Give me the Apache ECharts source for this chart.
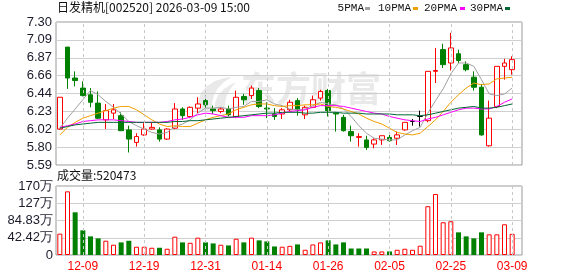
<!DOCTYPE html>
<html><head><meta charset="utf-8">
<script src="https://cdn.jsdelivr.net/npm/echarts@6/dist/echarts.min.js"></script>
<style>html,body{margin:0;padding:0;background:#fff}#c{width:578px;height:276px}</style>
</head><body><div id="c"></div>
<script>
const dates = ['12-04','12-05','12-08','12-09','12-10','12-11','12-12','12-15','12-16','12-17','12-18','12-19','12-22','12-23','12-24','12-25','12-26','12-29','12-30','12-31','01-05','01-06','01-07','01-08','01-09','01-12','01-13','01-14','01-15','01-16','01-19','01-20','01-21','01-22','01-23','01-26','01-27','01-28','01-29','01-30','02-02','02-03','02-04','02-05','02-06','02-09','02-10','02-11','02-12','02-13','02-24','02-25','02-26','02-27','03-02','03-03','03-04','03-05','03-06','03-09'];
const opens  = [6.02,7.00,6.63,6.51,6.43,6.33,6.13,6.21,6.18,6.01, 5.86,5.95,6.02,6.01,5.90,6.03,6.26,6.17,6.27,6.36, 6.26,6.23,6.26,6.17,6.41,6.42,6.48,6.27,6.20,6.20, 6.25,6.36,6.19,6.28,6.39,6.48,6.21,6.16,5.99,5.92, 5.89,5.84,5.89,5.92,5.91,6.01,6.11,6.17,6.12,6.71, 6.97,6.81,6.92,6.79,6.64,6.52,5.82,6.29,6.77,6.73];
const closes = [6.40,6.63,6.60,6.42,6.34,6.15,6.24,6.25,6.00,5.90, 5.93,6.02,6.04,5.90,6.02,6.26,6.18,6.28,6.32,6.31, 6.24,6.26,6.19,6.40,6.37,6.51,6.29,6.26,6.17,6.25, 6.34,6.25,6.28,6.37,6.47,6.24,6.20,6.00,5.94,5.93, 5.80,5.89,5.94,5.88,5.95,6.10,6.11,6.17,6.71,6.72, 6.79,6.99,6.84,6.73,6.52,5.95,6.15,6.77,6.81,6.85];
const lows   = [6.01,6.50,6.53,6.41,6.28,6.14,6.02,6.14,6.00,5.74, 5.81,5.94,6.01,5.87,5.89,6.02,6.13,6.15,6.21,6.27, 6.20,6.21,6.17,6.15,6.31,6.38,6.27,6.15,6.13,6.14, 6.23,6.18,6.14,6.27,6.36,6.17,5.99,5.99,5.87,5.81, 5.77,5.79,5.83,5.87,5.83,6.00,6.06,6.05,6.10,6.57, 6.75,6.72,6.81,6.71,6.48,5.94,5.81,6.27,6.61,6.67];
const highs  = [6.40,7.00,6.71,6.59,6.51,6.47,6.32,6.32,6.22,6.06, 5.97,6.09,6.10,6.04,6.03,6.33,6.28,6.29,6.40,6.42, 6.30,6.28,6.30,6.48,6.44,6.54,6.51,6.34,6.27,6.27, 6.37,6.39,6.30,6.42,6.49,6.50,6.22,6.19,6.06,5.97, 5.94,5.91,5.94,5.95,5.99,6.10,6.14,6.24,6.71,6.99, 7.04,7.17,6.97,6.83,6.71,6.56,6.36,6.77,6.86,6.89];
const ma5  = [6.03,6.15,6.26,6.37,6.48,6.43,6.35,6.28,6.20,6.11, 6.06,6.02,5.98,5.96,5.98,6.05,6.08,6.13,6.21,6.27, 6.27,6.28,6.26,6.28,6.29,6.35,6.35,6.37,6.32,6.30, 6.26,6.25,6.26,6.30,6.34,6.32,6.31,6.26,6.17,6.06, 5.97,5.91,5.90,5.89,5.89,5.95,6.00,6.04,6.21,6.36, 6.50,6.68,6.81,6.81,6.77,6.61,6.44,6.42,6.44,6.51];
const ma10 = [5.95,6.04,6.10,6.15,6.18,6.21,6.24,6.27,6.29,6.29, 6.25,6.19,6.13,6.08,6.05,6.06,6.05,6.05,6.09,6.13, 6.16,6.18,6.20,6.25,6.28,6.31,6.32,6.32,6.30,6.29, 6.30,6.30,6.31,6.31,6.32,6.29,6.28,6.26,6.23,6.20, 6.15,6.11,6.08,6.03,5.98,5.96,5.95,5.97,6.05,6.13, 6.23,6.34,6.43,6.51,6.57,6.55,6.56,6.62,6.63,6.64];
const ma20 = [6.04,6.06,6.08,6.11,6.12,6.13,6.13,6.13,6.12,6.11, 6.10,6.10,6.10,6.10,6.11,6.13,6.14,6.16,6.19,6.21, 6.20,6.18,6.16,6.16,6.16,6.18,6.18,6.18,6.19,6.21, 6.23,6.24,6.25,6.28,6.30,6.30,6.30,6.29,6.27,6.25, 6.23,6.21,6.20,6.17,6.15,6.13,6.12,6.11,6.14,6.16, 6.19,6.22,6.25,6.27,6.27,6.26,6.26,6.29,6.34,6.38];
const ma30 = [6.03,6.05,6.07,6.08,6.09,6.10,6.10,6.10,6.10,6.10, 6.10,6.10,6.10,6.10,6.10,6.11,6.11,6.12,6.12,6.13, 6.14,6.15,6.16,6.17,6.18,6.19,6.20,6.21,6.21,6.22, 6.22,6.22,6.21,6.21,6.22,6.22,6.22,6.21,6.21,6.21, 6.20,6.20,6.20,6.20,6.19,6.19,6.19,6.18,6.19,6.21, 6.23,6.25,6.27,6.28,6.29,6.27,6.27,6.28,6.30,6.32];
const volumes = [52.5,156.5,105,60.7,45.8,40.9,35.1,25.2,31,35, 20.3,20.3,17.8,17.8,15.4,45,31,30,42.6,31, 28.5,25.2,23.5,40,31,42.6,36,33.4,21,20.3, 22.5,26,12.9,26,31,36,26,31,16,16, 16,8.7,8.7,8.7,12.9,15.4,12.9,22.8,120,150, 80.5,83,55.7,45.8,40.9,55.7,50.8,50.8,75.5,52.05];
const priceTickLabels = ['5.59','5.80','6.02','6.23','6.44','6.66','6.87','7.09','7.30'];
const volTickLabels = ['0','42.42万','84.83万','127万','170万'];
const labelDates = ['12-09','12-19','12-31','01-14','01-26','02-05','02-25','03-09'];

const RED = '#ff0000', GREEN = '#008000';
const pMin = 5.59, pMax = 7.30, pInt = (pMax - pMin) / 8;
const vMax = 169.6668, vInt = vMax / 4;
const L = 56, W = 466, DW = 460;

const kData = dates.map((d, i) => [opens[i], closes[i], lows[i], highs[i]]);
const volData = volumes.map((v, i) => {
  const up = i === 0 ? closes[i] >= opens[i] : closes[i] >= closes[i - 1];
  return { value: v, itemStyle: up ? { color: '#fff', borderColor: RED, borderWidth: 1 } : { color: GREEN, borderColor: GREEN, borderWidth: 0 } };
});
const vlines = labelDates.map(d => ({ xAxis: d }));
const vlineStyle = { color: '#c8c8c8', type: [3, 3], width: 1 };
const labFont = { fontFamily: 'Liberation Sans', fontSize: 13, color: '#1a1a2a' };
const WM = '#e9e9e9';

const chart = echarts.init(document.getElementById('c'), null, { renderer: 'canvas' });
chart.setOption({
  animation: false,
  backgroundColor: '#fff',
  grid: [
    { left: L, top: 22, width: W, height: 143, show: true, borderColor: '#999', borderWidth: 1, backgroundColor: 'transparent' },
    { left: L, top: 22, width: DW, height: 143 },
    { left: L, top: 186, width: W, height: 69, show: true, borderColor: '#999', borderWidth: 1, backgroundColor: 'transparent' },
    { left: L, top: 186, width: DW, height: 69 }
  ],
  xAxis: [
    { gridIndex: 0, type: 'value', min: 0, max: 1, show: false },
    { gridIndex: 1, type: 'category', data: dates, show: false, boundaryGap: true },
    { gridIndex: 2, type: 'value', min: 0, max: 1, show: false },
    { gridIndex: 3, type: 'category', data: dates, boundaryGap: true,
      axisLine: { show: false }, axisTick: { show: false }, splitLine: { show: false },
      axisLabel: { interval: (idx) => labelDates.indexOf(dates[idx]) >= 0, color: RED, fontFamily: 'Liberation Sans', fontSize: 12, margin: 6 } }
  ],
  yAxis: [
    { gridIndex: 0, type: 'value', min: pMin, max: pMax, interval: pInt,
      axisLine: { show: false }, axisTick: { show: false },
      splitLine: { show: true, lineStyle: { color: '#cfcfcf', width: 1 } },
      axisLabel: Object.assign({ margin: 4, formatter: v => priceTickLabels[Math.round((v - pMin) / pInt)] }, labFont) },
    { gridIndex: 1, type: 'value', min: pMin, max: pMax, show: false, splitLine: { show: false } },
    { gridIndex: 2, type: 'value', min: 0, max: vMax, interval: vInt,
      axisLine: { show: false }, axisTick: { show: false },
      splitLine: { show: true, lineStyle: { color: '#cfcfcf', width: 1 } },
      axisLabel: Object.assign({ margin: 3, formatter: v => volTickLabels[Math.round(v / vInt)] }, labFont) },
    { gridIndex: 3, type: 'value', min: 0, max: vMax, show: false, splitLine: { show: false } }
  ],
  graphic: [
    { type: 'polygon', z: 0, silent: true, shape: { points: [[199,112],[198,102],[201,93],[207,86],[215,81],[224,78],[232,77],[224,82],[218,88],[214,95],[212,103],[212,112]] }, style: { fill: WM } },
    { type: 'polygon', z: 0, silent: true, shape: { points: [[214,112],[215,103],[218,95],[224,89],[230,85],[236,82],[231,88],[227,95],[225,103],[224,112]] }, style: { fill: WM } },
    { type: 'text', left: 241, top: 71, z: 0, silent: true, style: { text: '东方财富', font: 'bold 35px "Noto Sans CJK SC"', fill: WM } },
    { type: 'text', left: 57, top: 1, style: { text: '日发精机[002520] 2026-03-09 15:00', font: '12px "Noto Sans CJK SC"', fill: '#111' } },
    { type: 'text', left: 57, top: 169, style: { text: '成交量:520473', font: '12px "Noto Sans CJK SC"', fill: '#111' } },
    { type: 'text', right: 578 - 364, top: 3, style: { text: '5PMA', font: '11px "Liberation Mono"', fill: '#111' } },
    { type: 'rect', shape: { x: 365, y: 7, width: 5, height: 3 }, style: { fill: '#a0a0a0' } },
    { type: 'text', right: 578 - 411, top: 3, style: { text: '10PMA', font: '11px "Liberation Mono"', fill: '#111' } },
    { type: 'rect', shape: { x: 413, y: 7, width: 5, height: 3 }, style: { fill: '#f0a000' } },
    { type: 'text', right: 578 - 457, top: 3, style: { text: '20PMA', font: '11px "Liberation Mono"', fill: '#111' } },
    { type: 'rect', shape: { x: 460, y: 7, width: 5, height: 3 }, style: { fill: '#ff00ff' } },
    { type: 'text', right: 578 - 503, top: 3, style: { text: '30PMA', font: '11px "Liberation Mono"', fill: '#111' } },
    { type: 'rect', shape: { x: 505, y: 7, width: 5, height: 3 }, style: { fill: '#006633' } }
  ],
  series: [
    { type: 'line', xAxisIndex: 1, yAxisIndex: 1, data: [], z: 1, silent: true,
      markLine: { silent: true, symbol: 'none', label: { show: false }, lineStyle: vlineStyle, data: vlines } },
    { type: 'candlestick', xAxisIndex: 1, yAxisIndex: 1, data: kData, barWidth: 5, z: 3,
      itemStyle: { color: '#fff', color0: GREEN, borderColor: RED, borderColor0: GREEN, borderColorDoji: '#000', borderWidth: 1 } },
    { type: 'line', name: '5PMA', xAxisIndex: 1, yAxisIndex: 1, data: ma5, symbol: 'none', z: 4, lineStyle: { color: '#a0a0a0', width: 1 } },
    { type: 'line', name: '10PMA', xAxisIndex: 1, yAxisIndex: 1, data: ma10, symbol: 'none', z: 4, lineStyle: { color: '#f0a000', width: 1 } },
    { type: 'line', name: '20PMA', xAxisIndex: 1, yAxisIndex: 1, data: ma20, symbol: 'none', z: 4, lineStyle: { color: '#ff00ff', width: 1 } },
    { type: 'line', name: '30PMA', xAxisIndex: 1, yAxisIndex: 1, data: ma30, symbol: 'none', z: 4, lineStyle: { color: '#006633', width: 1 } },
    { type: 'line', xAxisIndex: 3, yAxisIndex: 3, data: [], z: 1, silent: true,
      markLine: { silent: true, symbol: 'none', label: { show: false }, lineStyle: vlineStyle, data: vlines } },
    { type: 'bar', xAxisIndex: 3, yAxisIndex: 3, data: volData, barWidth: 5, z: 3 }
  ]
});
</script></body></html>
